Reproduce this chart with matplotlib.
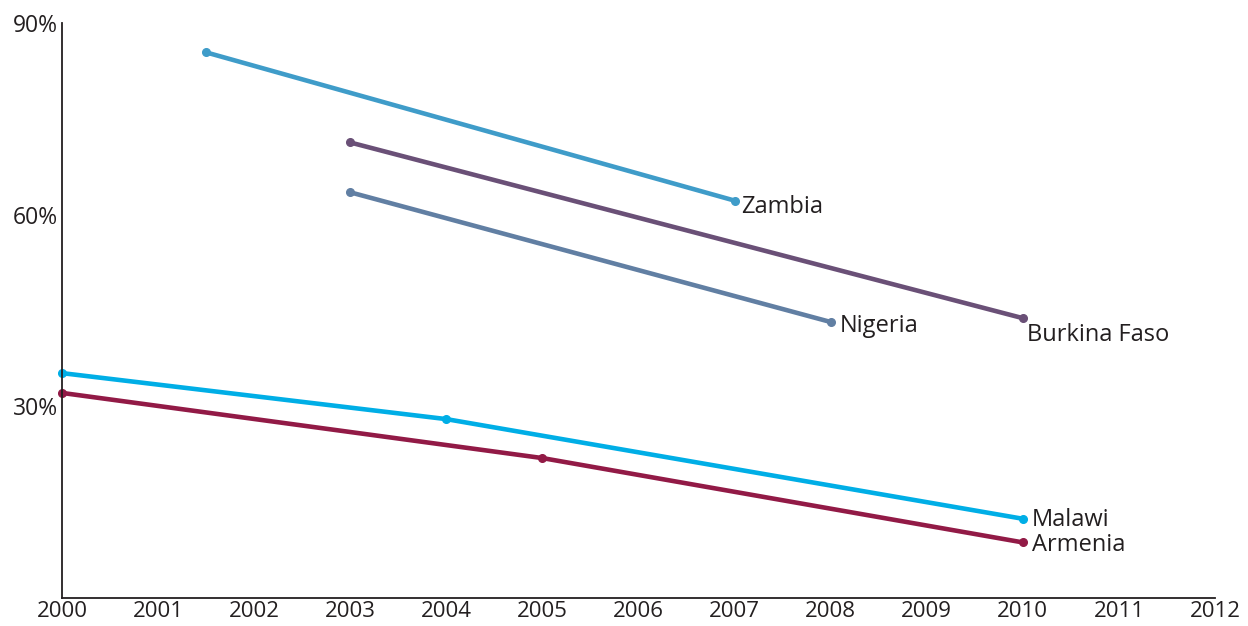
import matplotlib.pyplot as plt

plt.rcParams['font.family'] = ['Open Sans', 'DejaVu Sans']

# values (percent)
zambia_years = [2001.5, 2007]
zambia_vals = [85.4, 62.2]
burkina_years = [2003, 2010]
burkina_vals = [71.3, 43.8]
nigeria_years = [2003, 2008]
nigeria_vals = [63.5, 43.2]
malawi_years = [2000, 2004, 2010]
malawi_vals = [35.2, 28.0, 12.4]
armenia_years = [2000, 2005, 2010]
armenia_vals = [32.1, 21.9, 8.7]

x_ticks = list(range(2000, 2013))
y_ticks = [30, 60, 90]
y_tick_labels = ["30%", "60%", "90%"]

# name, years, values, colour, label offset in pixels
series = [
    ("Zambia", zambia_years, zambia_vals, "#3f9cc9", (7, -6)),
    ("Burkina Faso", burkina_years, burkina_vals, "#6a5077", (4, -17)),
    ("Nigeria", nigeria_years, nigeria_vals, "#617fa3", (9, -4)),
    ("Malawi", malawi_years, malawi_vals, "#00aee6", (9, -1)),
    ("Armenia", armenia_years, armenia_vals, "#921a46", (9, -3)),
]

fig = plt.figure(figsize=(12.48, 6.26), dpi=100)
ax = fig.add_axes([62 / 1248, 1 - 598 / 626, (1215 - 62) / 1248, (598 - 23) / 626])

for name, xs, ys, col, off in series:
    ax.plot(xs, ys, color=col, linewidth=3.3, marker="o", markersize=5.5,
            solid_capstyle="round", clip_on=False)
    ax.annotate(name, (xs[-1], ys[-1]), xytext=off, textcoords="offset pixels",
                ha="left", va="center", fontsize=17, color="#231f20")

ax.set_xlim(2000, 2012)
ax.set_ylim(0, 90)
ax.set_xticks(x_ticks)
ax.set_xticklabels([str(y) for y in x_ticks])
ax.set_yticks(y_ticks)
ax.set_yticklabels(y_tick_labels)
ax.tick_params(length=0, labelsize=16.5, labelcolor="#231f20")
ax.tick_params(axis="x", pad=2, labelsize=16)
ax.tick_params(axis="y", pad=3)

for s in ["top", "right"]:
    ax.spines[s].set_visible(False)
for s in ["left", "bottom"]:
    ax.spines[s].set_color("#231f20")
    ax.spines[s].set_linewidth(1.3)

fig.savefig("out.png", dpi=100)
